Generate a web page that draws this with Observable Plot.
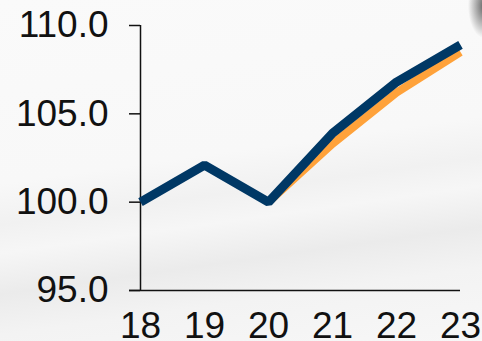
<!DOCTYPE html>
<html>
<head>
<meta charset="utf-8">
<script src="https://cdn.jsdelivr.net/npm/d3@7"></script>
<script src="https://cdn.jsdelivr.net/npm/@observablehq/plot@0.6"></script>
<style>
  html, body { margin: 0; padding: 0; }
  body {
    width: 482px; height: 341px; overflow: hidden;
    background:
      radial-gradient(ellipse 16px 32px at 484px 6px, rgba(50,50,50,0.75), rgba(60,60,60,0) 100%),
      linear-gradient(172deg, #fafafa 0%, #f8f8f8 45%, #f1f1f1 55%, #f6f6f6 62%, #ebebeb 72%, #f3f3f3 82%, #f7f7f7 100%);
  }
  #chart svg { display: block; background: transparent; }
</style>
</head>
<body>
<div id="chart"></div>
<script>
const years = [18, 19, 20, 21, 22, 23];
const navyValues = [100.0, 102.1, 100.0, 103.9, 106.8, 108.9];
const orangeYears = [20, 21, 22, 23];
const orangeValues = [100.0, 103.3, 106.2, 108.5];
const yTicks = [95, 100, 105, 110];

const navy = years.map((x, i) => ({x, y: navyValues[i]}));
const orange = orangeYears.map((x, i) => ({x, y: orangeValues[i]}));

const chart = Plot.plot({
  width: 482,
  height: 341,
  marginLeft: 140,
  marginRight: 22,
  marginTop: 25,
  marginBottom: 51,
  style: {background: "transparent", fontFamily: "'Liberation Sans', Arial, sans-serif", fontSize: "37px", color: "#111"},
  x: {domain: [18, 23]},
  y: {domain: [95, 110]},
  marks: [
    Plot.axisY({ticks: yTicks, tickFormat: d3.format(".1f"), tickSize: 11, tickPadding: 21, label: null, stroke: "#111", strokeWidth: 1.5, fill: "#111", fontSize: 37}),
    Plot.axisX({ticks: years, tickFormat: d => String(d), tickSize: 0, tickPadding: 21, label: null, fill: "#111", fontSize: 37}),
    Plot.ruleX([18], {stroke: "#111", strokeWidth: 1.5}),
    Plot.ruleY([95], {stroke: "#111", strokeWidth: 1.5, insetLeft: -11}),
    Plot.line(orange, {x: "x", y: "y", stroke: "#FFA23A", strokeWidth: 8, strokeLinecap: "butt", strokeLinejoin: "miter"}),
    Plot.line(navy, {x: "x", y: "y", stroke: "#003865", strokeWidth: 9, strokeLinecap: "butt", strokeLinejoin: "miter"})
  ]
});
document.getElementById("chart").append(chart);
</script>
</body>
</html>
